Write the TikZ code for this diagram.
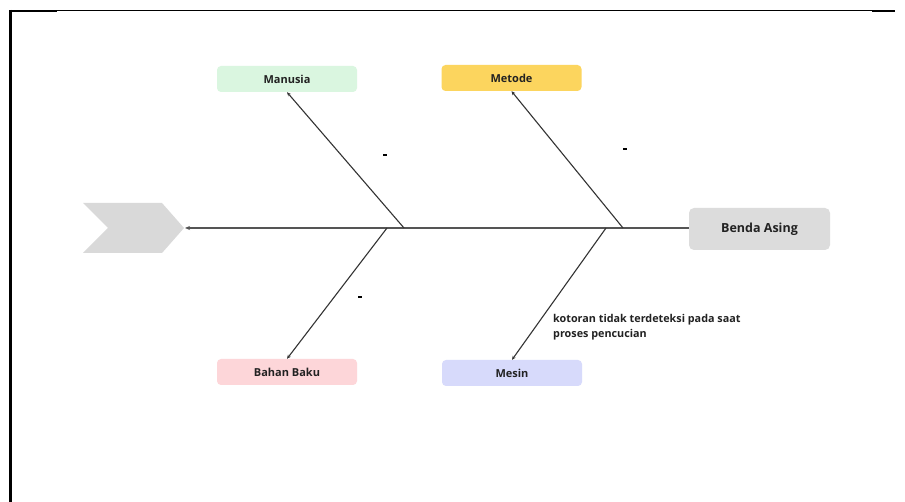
\documentclass[tikz,border=0pt]{standalone}
\usepackage{fontspec}
\setmainfont{Open Sans}
\usetikzlibrary{arrows.meta}
\definecolor{boneink}{HTML}{333333}
\definecolor{spineink}{HTML}{555555}
\definecolor{headgrey}{HTML}{DCDCDC}
\definecolor{tailgrey}{HTML}{D9D9D9}
\definecolor{mgreen}{HTML}{DAF6E0}
\definecolor{myellow}{HTML}{FCD55E}
\definecolor{mpink}{HTML}{FDD6D9}
\definecolor{mlav}{HTML}{D7DAFB}
\definecolor{txt}{HTML}{222222}
\tikzset{
  catbox/.style={rounded corners=4pt, minimum width=140pt, minimum height=26pt,
    inner sep=0pt, font=\fontsize{11}{12}\selectfont\bfseries, text=txt},
  headbox/.style={rounded corners=5pt, fill=headgrey, minimum width=141pt,
    minimum height=42pt, inner sep=0pt, font=\fontsize{12.5}{14}\selectfont\bfseries, text=txt},
  bone/.style={draw=boneink, line width=1.1pt, -{Stealth[length=4pt,width=3.5pt]}},
  spine/.style={draw=spineink, line width=1.4pt, -{Stealth[length=5pt,width=4pt]}},
  dashmark/.style={fill=black, minimum width=4.5pt, minimum height=2.2pt, inner sep=0pt},
  note/.style={font=\fontsize{10.8}{15.5}\selectfont\bfseries, text=txt, align=left,
    anchor=north west, inner sep=0pt}
}
\begin{document}
\begin{tikzpicture}[x=1pt,y=-1pt]
  \useasboundingbox (0,0) rectangle (905,502);
  \fill[white] (0,0) rectangle (905,502);

  % page frame
  \draw[line width=1pt] (10,11) -- (895,11);
  \draw[line width=2.2pt] (10,11) -- (57,11);
  \draw[line width=2.2pt] (872,11) -- (895,11);
  \draw[line width=2.2pt] (10.5,10) -- (10.5,502);

  % fish tail
  \fill[tailgrey] (83,203) -- (162,203) -- (184,228) -- (162,253) -- (83,253) -- (108,228) -- cycle;
  \coordinate (tail) at (185,228);

  % fish head
  \node[headbox] (head) at (759.5,229) {Benda Asing};

  % category boxes
  \node[catbox, fill=mgreen]   (manusia) at (287,79)  {Manusia};
  \node[catbox, fill=myellow]  (metode)  at (511.5,78) {Metode};
  \node[catbox, fill=mpink]    (bahan)   at (287,372) {Bahan Baku};
  \node[catbox, fill=mlav]     (mesin)   at (512,373) {Mesin};

  % junctions on the spine
  \coordinate (jman) at (404,228);
  \coordinate (jbah) at (387,228);
  \coordinate (jmet) at (623,228);
  \coordinate (jmes) at (606,228);

  % spine
  \draw[spine] (head.west |- tail) -- (tail);

  % bones
  \draw[bone] (jman) -- (manusia.south);
  \draw[bone] (jmet) -- (metode.south);
  \draw[bone] (jbah) -- (bahan.north);
  \draw[bone] (jmes) -- (mesin.north);

  % causes
  \node[dashmark] (c1) at (385,155) {};
  \node[dashmark] (c2) at (625,149) {};
  \node[dashmark] (c3) at (360,297) {};
  \node[note] (c4) at (553,314) {kotoran tidak terdeteksi pada saat\\proses pencucian};
\end{tikzpicture}
\end{document}
